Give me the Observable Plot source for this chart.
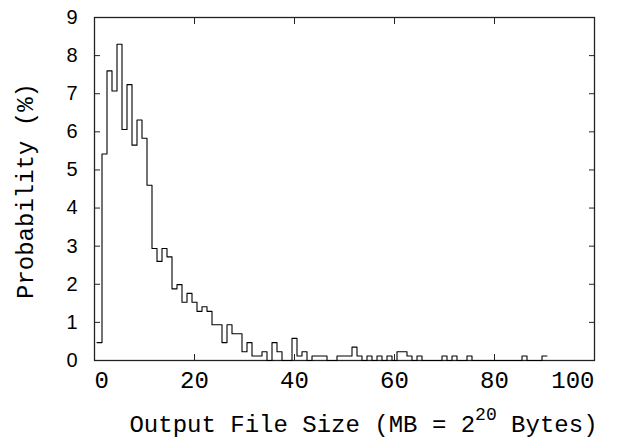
<!DOCTYPE html>
<html>
<head>
<meta charset="utf-8">
<script src="https://cdn.jsdelivr.net/npm/d3@7"></script>
<script src="https://cdn.jsdelivr.net/npm/@observablehq/plot@0.6"></script>
<style>
  html, body { margin: 0; padding: 0; background: #fff; }
  #chart { width: 623px; height: 439px; }
</style>
</head>
<body>
<div id="chart"></div>
<script>
// Bin centres (MB), bin width 1 MB
const sizeMB = [
  1, 2, 3, 4, 5, 6, 7, 8, 9, 10,
  11, 12, 13, 14, 15, 16, 17, 18, 19, 20,
  21, 22, 23, 24, 25, 26, 27, 28, 29, 30,
  31, 32, 33, 34, 35, 36, 37, 38, 39, 40,
  41, 42, 43, 44, 45, 46, 47, 48, 49, 50,
  51, 52, 53, 54, 55, 56, 57, 58, 59, 60,
  61, 62, 63, 64, 65, 66, 67, 68, 69, 70,
  71, 72, 73, 74, 75, 76, 77, 78, 79, 80,
  81, 82, 83, 84, 85, 86, 87, 88, 89, 90
];
// Probability (%) per bin
const probability = [
  0.47, 5.42, 7.60, 7.07, 8.30, 6.06, 7.24, 5.65, 6.31, 5.83,
  4.60, 2.94, 2.60, 2.94, 2.72, 1.88, 1.99, 1.53, 1.76, 1.53,
  1.29, 1.41, 1.29, 0.94, 0.94, 0.47, 0.94, 0.70, 0.70, 0.23,
  0.47, 0.12, 0.12, 0.23, 0.00, 0.47, 0.23, 0.00, 0.00, 0.58,
  0.12, 0.23, 0.00, 0.12, 0.12, 0.12, 0.00, 0.00, 0.12, 0.12,
  0.12, 0.35, 0.12, 0.00, 0.12, 0.00, 0.12, 0.00, 0.12, 0.00,
  0.23, 0.23, 0.12, 0.00, 0.12, 0.00, 0.00, 0.00, 0.00, 0.12,
  0.00, 0.12, 0.00, 0.00, 0.12, 0.00, 0.00, 0.00, 0.00, 0.00,
  0.00, 0.00, 0.00, 0.00, 0.00, 0.12, 0.00, 0.00, 0.00, 0.12
];
const binWidth = 1;
const xTicks = [0, 20, 40, 60, 80, 100];
const yTicks = [0, 1, 2, 3, 4, 5, 6, 7, 8, 9];
const xLabel = "Output File Size (MB = 2^20 Bytes)";
const yLabel = "Probability (%)";

// step outline: left edge of every bin, plus closing right edge of last bin
const steps = sizeMB.map((s, i) => ({x: s - binWidth / 2, y: probability[i]}));
steps.push({x: sizeMB[sizeMB.length - 1] + binWidth / 2, y: probability[probability.length - 1]});

const mono = "'Liberation Mono', 'DejaVu Sans Mono', monospace";
const sans = "'Liberation Sans', Arial, sans-serif";
const xLabelStyle = {anchor: "bottom", tickSize: 0, tickPadding: 10, label: null,
  fontFamily: mono, fontSize: 24, fill: "#000"};

const chart = Plot.plot({
  width: 623,
  height: 439,
  marginLeft: 94,
  marginRight: 29,
  marginTop: 17,
  marginBottom: 79,
  x: {domain: [0, 100], nice: false},
  y: {domain: [0, 9], nice: false},
  style: {background: "#fff", color: "#000"},
  marks: [
    Plot.frame({stroke: "#222", strokeWidth: 1.3}),
    // inward tick marks on all four sides
    Plot.axisX(xTicks, {anchor: "bottom", tickSize: -6, tickFormat: () => "", label: null, stroke: "#222"}),
    Plot.axisX(xTicks, {anchor: "top", tickSize: -6, tickFormat: () => "", label: null, stroke: "#222"}),
    Plot.axisY(yTicks, {anchor: "left", tickSize: -6, tickFormat: () => "", label: null, stroke: "#222"}),
    Plot.axisY(yTicks, {anchor: "right", tickSize: -6, tickFormat: () => "", label: null, stroke: "#222"}),
    // tick labels (end labels kept inside the frame width, as in the reference)
    Plot.axisX(xTicks.slice(0, 1), {...xLabelStyle, textAnchor: "start"}),
    Plot.axisX(xTicks.slice(1, -1), {...xLabelStyle}),
    Plot.axisX(xTicks.slice(-1), {...xLabelStyle, textAnchor: "end"}),
    Plot.axisY(yTicks, {anchor: "left", tickSize: 0, tickPadding: 17, label: null,
      fontFamily: sans, fontSize: 20, fill: "#000"}),
    // axis titles
    Plot.text([xLabel], {frameAnchor: "bottom", text: d => d, dy: 71, dx: 19,
      fontFamily: mono, fontSize: 24, fill: "#000"}),
    Plot.text([yLabel], {frameAnchor: "left", textAnchor: "middle", text: d => d, rotate: -90, dx: -69, dy: 2,
      fontFamily: mono, fontSize: 24, fill: "#000"}),
    // histogram outline
    Plot.line(steps, {x: "x", y: "y", curve: "step-after", stroke: "#000", strokeWidth: 1.1})
  ]
});

// superscript for 2^20
for (const t of chart.querySelectorAll("text")) {
  if (t.textContent === xLabel) {
    const [pre, rest] = xLabel.split("^");
    const exp = rest.slice(0, 2), post = rest.slice(2);
    t.textContent = "";
    const ns = "http://www.w3.org/2000/svg";
    const a = document.createElementNS(ns, "tspan"); a.textContent = pre;
    const b = document.createElementNS(ns, "tspan"); b.textContent = exp;
    b.setAttribute("dy", "-12"); b.setAttribute("font-size", "18");
    const c = document.createElementNS(ns, "tspan"); c.textContent = post;
    c.setAttribute("dy", "12");
    t.append(a, b, c);
  }
}
document.getElementById("chart").append(chart);
</script>
</body>
</html>
